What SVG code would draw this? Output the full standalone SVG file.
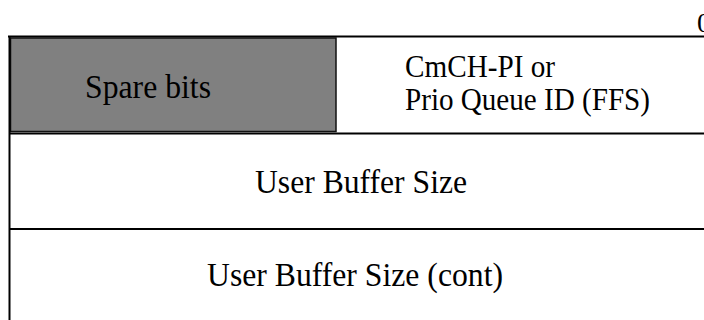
<svg xmlns="http://www.w3.org/2000/svg" width="704" height="320" viewBox="0 0 704 320">
  <style>
    .t { font-family: "Liberation Serif", "Times New Roman", serif; fill: #000; }
    .ln { stroke: #000; stroke-width: 2; fill: none; }
  </style>
  <rect x="0" y="0" width="704" height="320" fill="#fff"/>
  <g id="bit-label">
    <text class="t" x="697" y="32" font-size="28">0</text>
  </g>
  <g id="spare-bits">
    <rect x="10.5" y="38" width="325.5" height="93.5" fill="#808080" stroke="#111" stroke-width="1.5"/>
    <text class="t" x="85" y="98" font-size="34" textLength="126" lengthAdjust="spacingAndGlyphs">Spare bits</text>
  </g>
  <g id="cmch-pi">
    <text class="t" x="405" y="77" font-size="30.5" textLength="150" lengthAdjust="spacingAndGlyphs">CmCH-PI or</text>
    <text class="t" x="405" y="110" font-size="30.5" textLength="245" lengthAdjust="spacingAndGlyphs">Prio Queue ID (FFS)</text>
  </g>
  <g id="user-buffer-size">
    <text class="t" x="255" y="193" font-size="33" textLength="212" lengthAdjust="spacingAndGlyphs">User Buffer Size</text>
  </g>
  <g id="user-buffer-size-cont">
    <text class="t" x="207" y="286" font-size="33" textLength="296" lengthAdjust="spacingAndGlyphs">User Buffer Size (cont)</text>
  </g>
  <g id="connectors">
    <line class="ln" x1="8" y1="36.5" x2="704" y2="36.5"/>
    <line class="ln" x1="9.5" y1="36" x2="9.5" y2="320"/>
    <line class="ln" x1="9" y1="133.5" x2="704" y2="133.5"/>
    <line class="ln" x1="9" y1="229" x2="704" y2="229" stroke-width="2.5"/>
  </g>
</svg>
